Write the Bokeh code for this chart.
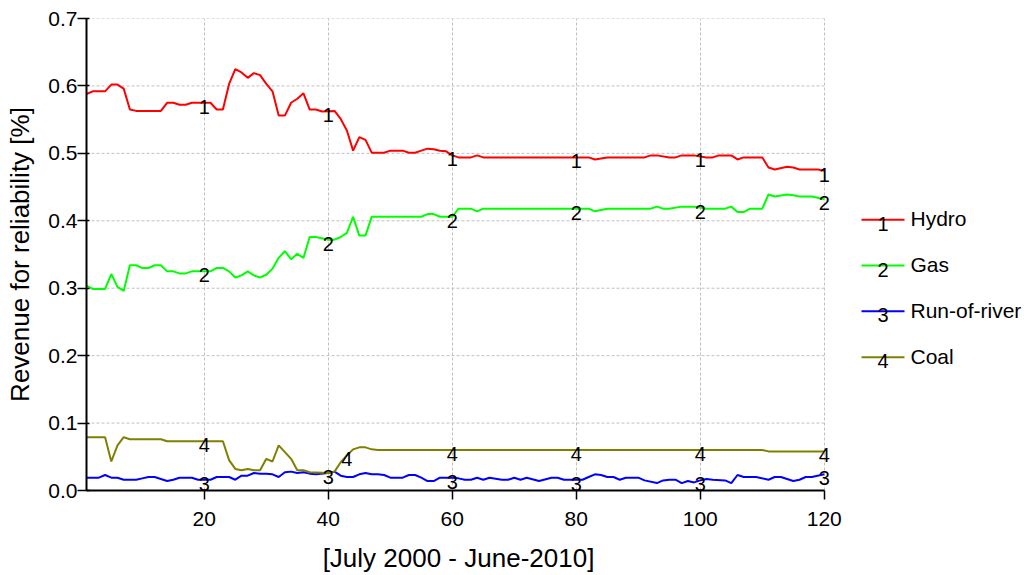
import numpy as np
from bokeh.plotting import figure
from bokeh.layouts import row
from bokeh.models import Range1d, FixedTicker, NumeralTickFormatter, Label
from bokeh.core.properties import value
from bokeh.embed import file_html
from bokeh.resources import INLINE

# ---- data (month index 1..120, breakpoints) ----
hydro_x = [1, 2, 4, 5, 6, 7, 8, 9, 13, 14, 15, 16, 17, 18, 21, 22, 23, 24, 25, 26, 27, 28, 29, 30,
           31, 32, 33, 34, 35, 36, 37, 38, 39, 41, 42, 43, 44, 45, 46, 47, 49, 50, 52, 53, 54, 55,
           56, 57, 58, 59, 60, 61, 63, 64, 65, 82, 83, 85, 91, 92, 93, 95, 96, 97, 99, 101, 102,
           103, 105, 106, 107, 110, 111, 112, 114, 115, 116, 119, 120]
hydro_y = [0.588, 0.592, 0.592, 0.602, 0.602, 0.596, 0.565, 0.563, 0.563, 0.575, 0.575, 0.572, 0.572,
           0.575, 0.575, 0.565, 0.565, 0.603, 0.625, 0.620, 0.612, 0.619, 0.616, 0.603, 0.592, 0.556,
           0.556, 0.575, 0.581, 0.589, 0.565, 0.565, 0.562, 0.563, 0.551, 0.534, 0.504, 0.524, 0.520,
           0.501, 0.501, 0.504, 0.504, 0.501, 0.501, 0.504, 0.507, 0.506, 0.504, 0.503, 0.497, 0.494,
           0.494, 0.497, 0.494, 0.494, 0.491, 0.494, 0.494, 0.497, 0.497, 0.494, 0.494, 0.497, 0.497,
           0.494, 0.494, 0.497, 0.497, 0.491, 0.494, 0.494, 0.479, 0.476, 0.480, 0.479, 0.476, 0.476,
           0.474]

gas_x = [1, 2, 4, 5, 6, 7, 8, 9, 10, 11, 12, 13, 14, 15, 16, 17, 18, 21, 22, 23, 24, 25, 26, 27, 28,
         29, 30, 31, 32, 33, 34, 35, 36, 37, 38, 40, 41, 42, 43, 44, 45, 46, 47, 55, 56, 57, 58, 60,
         61, 63, 64, 65, 82, 83, 85, 92, 93, 94, 95, 97, 99, 101, 104, 105, 106, 107, 108, 110, 111,
         112, 114, 115, 116, 118, 120]
gas_y = [0.304, 0.299, 0.299, 0.321, 0.302, 0.296, 0.334, 0.334, 0.330, 0.330, 0.334, 0.334, 0.325,
         0.325, 0.322, 0.322, 0.325, 0.325, 0.330, 0.330, 0.325, 0.316, 0.319, 0.325, 0.319, 0.316,
         0.320, 0.329, 0.345, 0.355, 0.343, 0.351, 0.345, 0.376, 0.376, 0.372, 0.372, 0.376, 0.382,
         0.406, 0.378, 0.378, 0.406, 0.406, 0.410, 0.410, 0.406, 0.406, 0.418, 0.418, 0.414, 0.418,
         0.418, 0.414, 0.418, 0.418, 0.421, 0.418, 0.418, 0.421, 0.421, 0.418, 0.418, 0.421, 0.413,
         0.413, 0.418, 0.418, 0.439, 0.436, 0.439, 0.438, 0.436, 0.436, 0.432]

ror_x = [1, 3, 4, 5, 6, 7, 9, 10, 11, 12, 13, 14, 15, 16, 18, 19, 21, 22, 24, 25, 26, 27, 28, 29, 30,
         31, 32, 33, 34, 35, 36, 37, 38, 40, 41, 42, 43, 44, 45, 46, 47, 48, 49, 50, 52, 53, 54, 55,
         56, 57, 58, 60, 61, 62, 63, 64, 65, 66, 68, 69, 70, 71, 72, 74, 76, 77, 78, 81, 82, 83, 84,
         85, 86, 87, 88, 90, 91, 93, 94, 95, 96, 97, 98, 99, 100, 101, 102, 104, 105, 106, 107, 109,
         111, 112, 113, 115, 116, 117, 118, 120]
ror_y = [0.019, 0.019, 0.023, 0.019, 0.019, 0.016, 0.016, 0.018, 0.020, 0.020, 0.017, 0.014, 0.016,
         0.019, 0.019, 0.016, 0.016, 0.020, 0.020, 0.016, 0.022, 0.022, 0.026, 0.025, 0.025, 0.024,
         0.020, 0.027, 0.028, 0.026, 0.027, 0.025, 0.024, 0.026, 0.028, 0.022, 0.020, 0.020, 0.024,
         0.026, 0.024, 0.024, 0.023, 0.019, 0.019, 0.023, 0.023, 0.019, 0.014, 0.014, 0.019, 0.019,
         0.018, 0.016, 0.016, 0.019, 0.016, 0.019, 0.016, 0.016, 0.019, 0.016, 0.019, 0.014, 0.019,
         0.019, 0.016, 0.016, 0.020, 0.024, 0.023, 0.020, 0.020, 0.016, 0.019, 0.019, 0.015, 0.011,
         0.015, 0.016, 0.016, 0.011, 0.014, 0.012, 0.015, 0.017, 0.016, 0.015, 0.011, 0.023, 0.020,
         0.020, 0.016, 0.020, 0.020, 0.014, 0.016, 0.020, 0.020, 0.024]

coal_x = [1, 4, 5, 6, 7, 8, 13, 14, 23, 24, 25, 26, 27, 28, 29, 30, 31, 32, 33, 34, 35, 36, 37, 40,
          41, 42, 43, 44, 45, 46, 47, 48, 110, 111, 120]
coal_y = [0.079, 0.079, 0.043, 0.067, 0.079, 0.076, 0.076, 0.073, 0.073, 0.045, 0.032, 0.030, 0.032,
          0.030, 0.030, 0.047, 0.043, 0.067, 0.057, 0.047, 0.030, 0.030, 0.027, 0.026, 0.028, 0.042,
          0.052, 0.061, 0.064, 0.064, 0.061, 0.060, 0.060, 0.058, 0.058]

series_names = ["Hydro", "Gas", "Run-of-river", "Coal"]
series_colors = ["#ff0000", "#00ff00", "#0000ff", "#808000"]
series_marks = ["1", "2", "3", "4"]
mark_months = [[20, 40, 60, 80, 100, 120],
               [20, 40, 60, 80, 100, 120],
               [20, 40, 60, 80, 100, 120],
               [20, 43, 60, 80, 100, 120]]

x_ticks = [20, 40, 60, 80, 100, 120]
y_ticks = [0.0, 0.1, 0.2, 0.3, 0.4, 0.5, 0.6, 0.7]
x_min, x_max = 1, 120

FONT = "Liberation Sans"

# frame runs slightly past month 120 so the end-of-line markers are not clipped
p = figure(frame_width=744, frame_height=472, min_border_left=86, min_border_right=12,
           min_border_top=18, min_border_bottom=78,
           x_range=Range1d(x_min, x_max + 1), y_range=Range1d(0, 0.7),
           output_backend="svg", toolbar_location=None)
p.outline_line_color = None
p.background_fill_color = "white"
p.border_fill_color = "white"

# horizontal grid lines limited to the data span
p.ygrid.visible = False
p.segment(x0=[x_min] * len(y_ticks), x1=[x_max] * len(y_ticks), y0=y_ticks, y1=y_ticks,
          line_color="#c0c0c0", line_dash="3 2", line_width=1)
p.xgrid.grid_line_color = "#c0c0c0"
p.xgrid.grid_line_dash = "3 2"
p.xgrid.grid_line_width = 1

xs_all = [hydro_x, gas_x, ror_x, coal_x]
ys_all = [hydro_y, gas_y, ror_y, coal_y]
for xs, ys, col in zip(xs_all, ys_all, series_colors):
    p.line(xs, ys, line_color=col, line_width=2)

for xs, ys, mk, months in zip(xs_all, ys_all, series_marks, mark_months):
    my = np.interp(months, xs, ys)
    for mx, yy in zip(months, my):
        p.add_layout(Label(x=mx, y=float(yy), text=mk, text_font=FONT,
                           text_font_size="20px", text_align="center", text_baseline="top",
                           y_offset=3, text_color="black"))

for ax in (p.xaxis[0], p.yaxis[0]):
    ax.axis_line_width = 2
    ax.axis_line_color = "black"
    ax.major_tick_line_color = "black"
    ax.major_tick_line_width = 1.5
    ax.minor_tick_line_color = None
    ax.major_label_text_font = FONT
    ax.major_label_text_font_size = "21px"
    ax.major_label_text_color = "black"
    ax.axis_label_text_font = FONT
    ax.axis_label_text_font_style = "normal"
    ax.axis_label_text_color = "black"

p.xaxis.bounds = (x_min, x_max)
p.xaxis.ticker = FixedTicker(ticks=x_ticks)
p.yaxis.ticker = FixedTicker(ticks=y_ticks)
p.yaxis.formatter = NumeralTickFormatter(format="0.0")
p.xaxis.major_tick_in = 0
p.xaxis.major_tick_out = 9
p.xaxis.major_label_standoff = 12
p.xaxis.axis_label = "[July 2000 - June-2010]"
p.xaxis.axis_label_text_font_size = "26px"
p.xaxis.axis_label_standoff = 14
p.yaxis.major_tick_in = 3
p.yaxis.major_tick_out = 9
p.yaxis.major_label_standoff = 0
p.yaxis.axis_label = "Revenue for reliability [%]"
p.yaxis.axis_label_text_font_size = "26px"
p.yaxis.axis_label_standoff = 10

# ---- legend panel ----
lg = figure(frame_width=180, frame_height=472, min_border_left=0, min_border_right=0,
            min_border_top=18, min_border_bottom=78,
            x_range=Range1d(0, 180), y_range=Range1d(472, 0),
            output_backend="svg", toolbar_location=None)
lg.axis.visible = False
lg.grid.visible = False
lg.outline_line_color = None
leg_y = [201.3, 247.0, 292.7, 338.7]
for yy, name, col, mk in zip(leg_y, series_names, series_colors, series_marks):
    lg.line([19, 62], [yy, yy], line_color=col, line_width=2)
    lg.text(x=[40.5], y=[yy], text=[mk], text_font=value(FONT), text_font_size="20px",
            text_align="center", text_baseline="top", y_offset=-3, text_color="black")
    lg.text(x=[68], y=[yy], text=[name], text_font=value(FONT), text_font_size="21px",
            text_align="left", text_baseline="alphabetic", y_offset=-1, text_color="black")

layout = row(p, lg)
open("out.html", "w").write(file_html(layout, INLINE))
